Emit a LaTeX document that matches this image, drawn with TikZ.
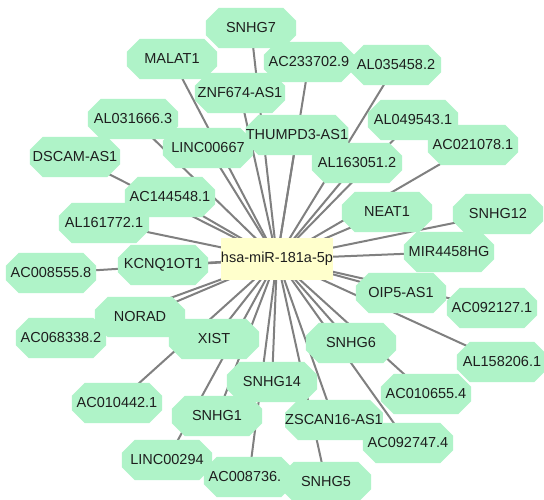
\documentclass[tikz,border=0pt]{standalone}
\usepackage{fontspec}
\setmainfont{Liberation Sans}
\pgfdeclarelayer{edgelayer}
\pgfdeclarelayer{filllayer}
\pgfsetlayers{edgelayer,filllayer,main}
\definecolor{octgreen}{RGB}{175,243,200}
\definecolor{hubyellow}{RGB}{255,255,204}
\definecolor{edgegray}{RGB}{128,128,128}
\definecolor{labelink}{RGB}{30,30,30}
\tikzset{
  lnc/.style={rectangle, minimum width=90pt, minimum height=40pt, inner sep=0pt,
    text=labelink, font=\fontsize{14.5}{17}\selectfont},
  hub/.style={rectangle, fill=hubyellow, minimum width=89pt, minimum height=42pt,
    inner sep=0pt, text=labelink, font=\fontsize{14.5}{17}\selectfont},
  edge/.style={draw=edgegray, line width=2pt},
  octfill/.style={fill=octgreen}
}
\begin{document}
\begin{tikzpicture}[x=1pt,y=-1pt]
\useasboundingbox (0,0) rectangle (544,499);
\begin{pgfonlayer}{edgelayer}
\fill[white] (0,0) rectangle (544,499);
\end{pgfonlayer}
\node[hub] (hub) at (277,259) {hsa-miR-181a-5p};
\node[lnc] (snhg7) at (251,28) {SNHG7};
\node[lnc] (malat1) at (172,59) {MALAT1};
\node[lnc] (ac233) at (309,62) {AC233702.9};
\node[lnc] (al035) at (396,65) {AL035458.2};
\node[lnc] (znf) at (240,93) {ZNF674-AS1};
\node[lnc] (al031) at (133,119) {AL031666.3};
\node[lnc] (thumpd3) at (297,135) {THUMPD3-AS1};
\node[lnc] (al049) at (413,120) {AL049543.1};
\node[lnc] (linc667) at (208,148) {LINC00667};
\node[lnc] (ac021) at (473,145) {AC021078.1};
\node[lnc] (al163) at (357,163) {AL163051.2};
\node[lnc] (dscam) at (75,157) {DSCAM-AS1};
\node[lnc] (ac144) at (170,197) {AC144548.1};
\node[lnc] (neat1) at (387,212) {NEAT1};
\node[lnc] (snhg12) at (498,214) {SNHG12};
\node[lnc] (al161) at (104,223) {AL161772.1};
\node[lnc] (mir4458) at (449,252) {MIR4458HG};
\node[lnc] (ac008555) at (51,273) {AC008555.8};
\node[lnc] (kcnq) at (163,265) {KCNQ1OT1};
\node[lnc] (oip5) at (401,293) {OIP5-AS1};
\node[lnc] (ac092127) at (492,308) {AC092127.1};
\node[lnc] (norad) at (140,317) {NORAD};
\node[lnc] (ac068) at (61,338) {AC068338.2};
\node[lnc] (xist) at (214,339) {XIST};
\node[lnc] (snhg6) at (351,343) {SNHG6};
\node[lnc] (al158) at (502,362) {AL158206.1};
\node[lnc] (ac010442) at (117,403) {AC010442.1};
\node[lnc] (snhg14) at (272,382) {SNHG14};
\node[lnc] (ac010655) at (426,394) {AC010655.4};
\node[lnc] (snhg1) at (217,416) {SNHG1};
\node[lnc] (zscan) at (334,420) {ZSCAN16-AS1};
\node[lnc] (ac092747) at (408,443) {AC092747.4};
\node[lnc] (linc294) at (167,460) {LINC00294};
\node[lnc] (ac008736) at (249,477) {AC008736.\hphantom{1}};
\node[lnc] (snhg5) at (326,482) {SNHG5};
\begin{pgfonlayer}{filllayer}
\foreach \n in {snhg7,malat1,ac233,al035,znf,al031,thumpd3,al049,linc667,ac021,al163,dscam,ac144,neat1,snhg12,al161,mir4458,ac008555,kcnq,oip5,ac092127,norad,ac068,xist,snhg6,al158,ac010442,snhg14,ac010655,snhg1,zscan,ac092747,linc294,ac008736,snhg5}{
  \fill[octfill] ([xshift=13pt]\n.north west) -- ([xshift=-13pt]\n.north east)
    -- ([yshift=-13pt]\n.north east) -- ([yshift=13pt]\n.south east)
    -- ([xshift=-13pt]\n.south east) -- ([xshift=13pt]\n.south west)
    -- ([yshift=13pt]\n.south west) -- ([yshift=-13pt]\n.north west) -- cycle;
}
\end{pgfonlayer}
\begin{pgfonlayer}{edgelayer}
\foreach \n in {snhg7,malat1,ac233,al035,znf,al031,thumpd3,al049,linc667,ac021,al163,dscam,ac144,neat1,snhg12,al161,mir4458,ac008555,kcnq,oip5,ac092127,norad,ac068,xist,snhg6,al158,ac010442,snhg14,ac010655,snhg1,zscan,ac092747,linc294,ac008736,snhg5}{
  \draw[edge] (hub.center) -- (\n.center);
}
\end{pgfonlayer}
\end{tikzpicture}
\end{document}
